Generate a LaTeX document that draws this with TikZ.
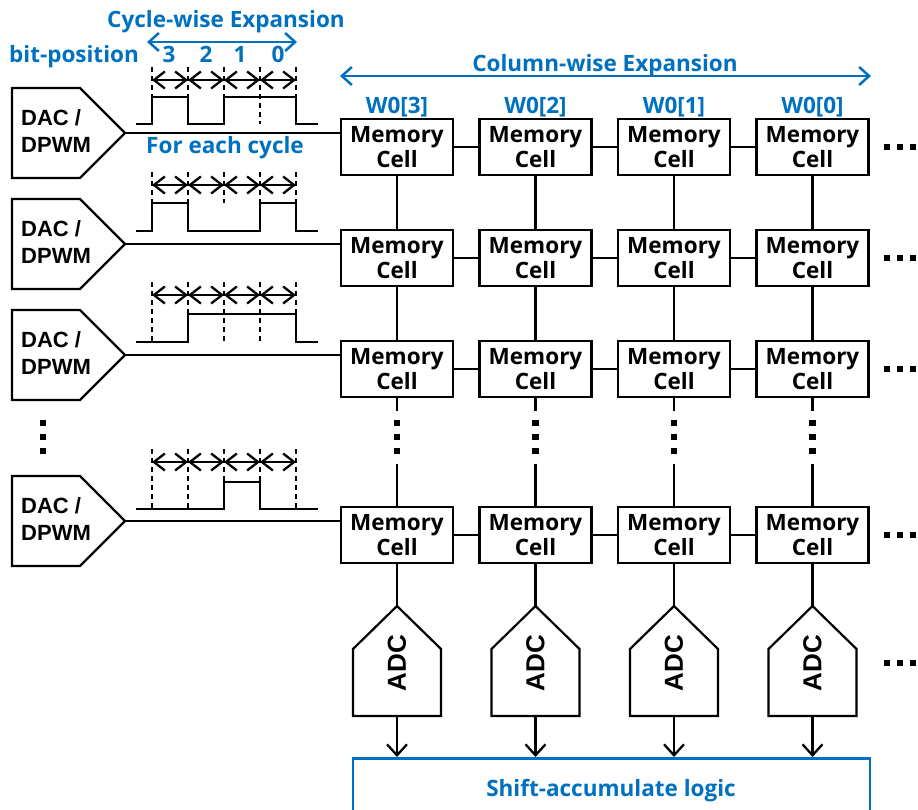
\documentclass[tikz,border=0pt]{standalone}
\usepackage{fontspec}
\setmainfont{Open Sans}
\newfontfamily\arialb{Liberation Sans}
\usetikzlibrary{arrows.meta}
\definecolor{mblue}{RGB}{0,112,192}
\begin{document}
\begin{tikzpicture}[x=1pt,y=-1pt,
  wire/.style={line width=2.2pt},
  dashline/.style={line width=1.8pt,dash pattern=on 5pt off 4pt},
  cellbox/.style={draw,line width=2.2pt,minimum width=112pt,minimum height=56pt,inner sep=0pt,align=center,font=\bfseries\fontsize{22.5}{25.5}\selectfont},
  dactext/.style={inner sep=0pt,align=left,anchor=west,font=\arialb\bfseries\fontsize{22}{27}\selectfont},
  adctext/.style={inner sep=0pt,rotate=90,font=\arialb\bfseries\fontsize{26}{30}\selectfont},
  bluetext/.style={inner sep=0pt,anchor=base,text=mblue,font=\bfseries\fontsize{22.5}{26}\selectfont},
  tickarrow/.style={line width=2.3pt,{Straight Barb[length=11pt,width=17pt]}-{Straight Barb[length=11pt,width=17pt]}},
  bluearrow/.style={line width=2.5pt,draw=mblue,{Straight Barb[length=10pt,width=18pt]}-{Straight Barb[length=10pt,width=18pt]}},
  downarrow/.style={line width=2.3pt,-{Straight Barb[length=11pt,width=20pt]}},
  wave/.style={line width=2.4pt},
]
\useasboundingbox (0,0) rectangle (918,809);

% ---------- memory cells ----------
\foreach \r/\c in {1/147,2/258,3/369,4/535}{
  \foreach \k/\x in {1/397,2/535.5,3/674,4/812.5}{
    \node[cellbox] (m\r\k) at (\x,\c) {Memory\\Cell};
  }
  \foreach \k/\n in {1/2,2/3,3/4}{
    \draw[wire] (m\r\k) -- (m\r\n);
  }
  % right dots
  \foreach \dx in {887,900,913}{
    \fill (\dx-3.3,\c-3.3) rectangle +(6.6,6.6);
  }
}
\foreach \k in {1,2,3,4}{
  \draw[wire] (m1\k) -- (m2\k);
  \draw[wire] (m2\k) -- (m3\k);
  \draw[wire] (m3\k.south) -- +(0,13);
  \draw[wire] (m4\k.north) -- +(0,-42);
  \foreach \dy in {423,437,451}{
    \fill ([xshift=-3.3pt]m3\k.south |- 0,\dy) ++(0,-3.3) rectangle +(6.6,6.6);
  }
}

% ---------- DAC blocks ----------
\foreach \r/\t in {1/133,2/244,3/355,4/521}{
  \draw[wire,line join=miter] (12,\t-45) -- (80,\t-45) -- (125,\t) -- (80,\t+45) -- (12,\t+45) -- cycle;
  \coordinate (dac\r) at (125,\t);
  \node[dactext] (dact\r) at (21,\t-1.5) {DAC /\\DPWM};
  \draw[wire] (dac\r) -- (dac\r -| m\r1.west);
}
% left vertical dots
\foreach \dy in {423,437,451}{
  \fill (43-3.3,\dy-3.3) rectangle +(6.6,6.6);
}

% ---------- ADC blocks ----------
\foreach \k/\x in {1/397,2/535.5,3/674,4/812.5}{
  \draw[wire,line join=miter] (\x,606) -- (\x+44,649) -- (\x+44,716) -- (\x-44,716) -- (\x-44,649) -- cycle;
  \coordinate (adctip\k) at (\x,606);
  \coordinate (adcbot\k) at (\x,716);
  \node[adctext] (adc\k) at (\x,663) {ADC};
  \draw[wire] (m4\k.south) -- (adctip\k);
}
\foreach \dx in {887,900,913}{
  \fill (\dx-3.3,663-3.3) rectangle +(6.6,6.6);
}

% ---------- shift-accumulate ----------
\begin{scope}
  \clip (0,0) rectangle (918,809);
  \node[draw=mblue,line width=2.6pt,minimum width=517pt,minimum height=80pt,anchor=north,inner sep=0pt] (shift) at (611.5,757) {};
\end{scope}
\node[bluetext] (shiftt) at (611,796) {Shift-accumulate logic};
\foreach \k in {1,2,3,4}{
  \draw[downarrow] (adcbot\k) -- (adcbot\k |- shift.north);
}

% ---------- labels top ----------
\node[bluetext] (cyc) at (226,27) {Cycle-wise Expansion};
\draw[bluearrow] (147,42) coordinate (ca1) -- (297,42) coordinate (ca2);
\node[bluetext] (bitpos) at (74,62) {bit-position};
\node[bluetext] (b3) at (169,62) {3};
\node[bluetext] (b2) at (206,62) {2};
\node[bluetext] (b1) at (240,62) {1};
\node[bluetext] (b0) at (278,62) {0};
\node[bluetext] (foreach) at (225,153) {For each cycle};
\node[bluetext] (colw) at (605,71) {Column-wise Expansion};
\draw[bluearrow] (340,76) coordinate (cw1) -- (871,76) coordinate (cw2);
\foreach \k/\x/\b in {1/397/3,2/535.5/2,3/674/1,4/812.5/0}{
  \node[bluetext] (w\k) at (\x,113) {W0[\b]};
}

% ---------- timing arrows ----------
\foreach \a in {80,185,295,462}{
  \draw[tickarrow] (152,\a) -- (188,\a);
  \draw[tickarrow] (188,\a) -- (224,\a);
  \draw[tickarrow] (224,\a) -- (260,\a);
  \draw[tickarrow] (260,\a) -- (296,\a);
}

% row 1: A=80 H=97 L=124, bits 1 0 1 1
\foreach \x in {152,188,224,260,296}{\draw[dashline] (\x,67) -- (\x,124);}
\draw[wave,line join=miter] (136,124) -- (152,124) -- (152,97) -- (188,97) -- (188,124) -- (224,124) -- (224,97) -- (296,97) -- (296,124) -- (318,124);

% row 2: A=185 H=203 L=231, bits 1 0 0 1
\foreach \x in {152,188,260,296}{\draw[dashline] (\x,172) -- (\x,231);}
\draw[dashline] (224,172) -- (224,203);
\draw[wave,line join=miter] (136,231) -- (152,231) -- (152,203) -- (188,203) -- (188,231) -- (260,231) -- (260,203) -- (296,203) -- (296,231) -- (318,231);

% row 3: A=295 H=314 L=342, bits 0 1 1 1
\foreach \x in {152,188,224,260,296}{\draw[dashline] (\x,282) -- (\x,342);}
\draw[wave,line join=miter] (136,342) -- (188,342) -- (188,314) -- (296,314) -- (296,342) -- (318,342);

% row 4: A=462 H=482 L=509, bits 0 0 1 0
\foreach \x in {152,188,224,260,296}{\draw[dashline] (\x,449) -- (\x,509);}
\draw[wave,line join=miter] (136,509) -- (224,509) -- (224,482) -- (260,482) -- (260,509) -- (318,509);

\end{tikzpicture}
\end{document}
